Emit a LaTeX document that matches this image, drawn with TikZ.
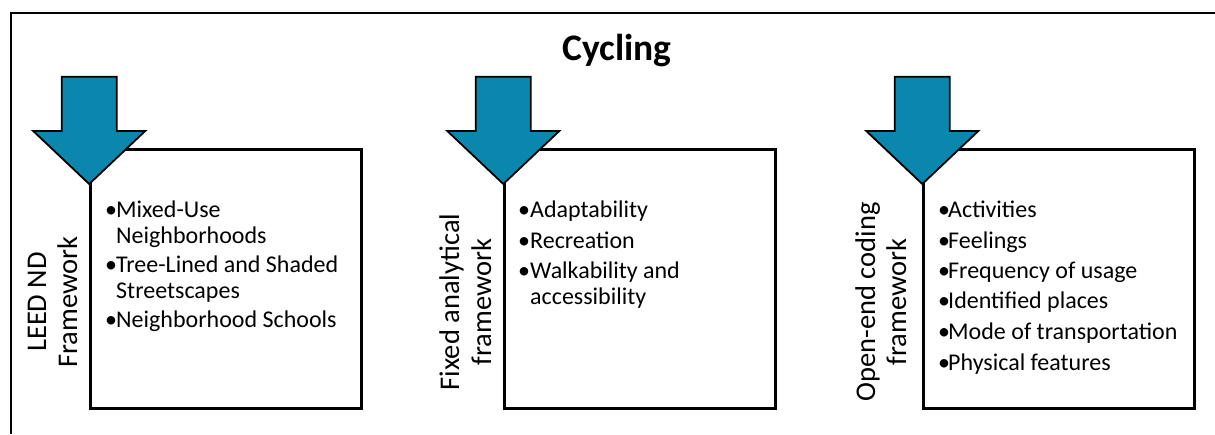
\documentclass[tikz,border=0pt]{standalone}
\usepackage{fontspec}
\setmainfont{Carlito}
\definecolor{arrowblue}{HTML}{0B87AE}
\begin{document}
\begin{tikzpicture}[x=1pt,y=-1pt,
  frame/.style={line width=2.6pt},
  box/.style={draw, line width=2.6pt, minimum width=271pt, minimum height=259pt, inner sep=0pt, anchor=north west},
  arrowshape/.style={fill=arrowblue, draw=black, line width=1.8pt, line join=miter},
  item/.style={anchor=base west, inner sep=0pt, font=\fontsize{24}{26}\selectfont},
  bul/.style={anchor=base west, inner sep=0pt, font=\fontsize{24}{26}\selectfont},
  side/.style={rotate=90, anchor=base, inner sep=0pt, font=\fontsize{28.5}{33}\selectfont},
  titletext/.style={anchor=base, inner sep=0pt, font=\fontsize{37.5}{40}\selectfont\bfseries},
  downarrow/.pic={\draw[arrowshape] (-27.5,0) -- (27.5,0) -- (27.5,54.3) -- (56,54.3) -- (0,107.3) -- (-56,54.3) -- (-27.5,54.3) -- cycle;}]
\useasboundingbox (0,0) rectangle (1215,434);
% outer frame (only top and left visible)
\coordinate (fbl) at (11,434);
\coordinate (ftl) at (11,13);
\coordinate (ftr) at (1215,13);
\draw[frame] (fbl) -- (ftl) -- (ftr);
% title
\node[titletext] (title) at (617,60) {Cycling};
% boxes
\node[box] (box1) at (89.2,148) {};
\node[box] (box2) at (503.3,148) {};
\node[box] (box3) at (922.3,148) {};
% arrows
\pic (arr1) at (89.2,76.7) {downarrow};
\pic (arr2) at (503.3,76.7) {downarrow};
\pic (arr3) at (922.3,76.7) {downarrow};
% side labels
\node[side] (s1a) at (46,302) {LEED ND};
\node[side] (s1b) at (77,302) {Framework};
\node[side] (s2a) at (459,302) {Fixed analytical};
\node[side] (s2b) at (491,302) {framework};
\node[side] (s3a) at (875,302) {Open-end coding};
\node[side] (s3b) at (906,302) {framework};
% box 1 items
\node[bul] (b11) at (105,217) {•};
\node[item] (t11) at (116,217) {Mixed-Use};
\node[item] (t11b) at (116,243) {Neighborhoods};
\node[bul] (b12) at (105,272) {•};
\node[item] (t12) at (116,272) {Tree-Lined and Shaded};
\node[item] (t12b) at (116,298) {Streetscapes};
\node[bul] (b13) at (105,327) {•};
\node[item] (t13) at (116,327) {Neighborhood Schools};
% box 2 items
\node[bul] (b21) at (518,217) {•};
\node[item] (t21) at (530,217) {Adaptability};
\node[bul] (b22) at (518,248) {•};
\node[item] (t22) at (530,248) {Recreation};
\node[bul] (b23) at (518,278) {•};
\node[item] (t23) at (530,278) {Walkability and};
\node[item] (t23b) at (530,304) {accessibility};
% box 3 items
\node[bul] (b31) at (938,217) {•};
\node[item] (t31) at (948,217) {Activities};
\node[bul] (b32) at (938,248) {•};
\node[item] (t32) at (948,248) {Feelings};
\node[bul] (b33) at (938,278) {•};
\node[item] (t33) at (948,278) {Frequency of usage};
\node[bul] (b34) at (938,308) {•};
\node[item] (t34) at (948,308) {Identified places};
\node[bul] (b35) at (938,339) {•};
\node[item] (t35) at (948,339) {Mode of transportation};
\node[bul] (b36) at (938,370) {•};
\node[item] (t36) at (948,370) {Physical features};
\end{tikzpicture}
\end{document}
